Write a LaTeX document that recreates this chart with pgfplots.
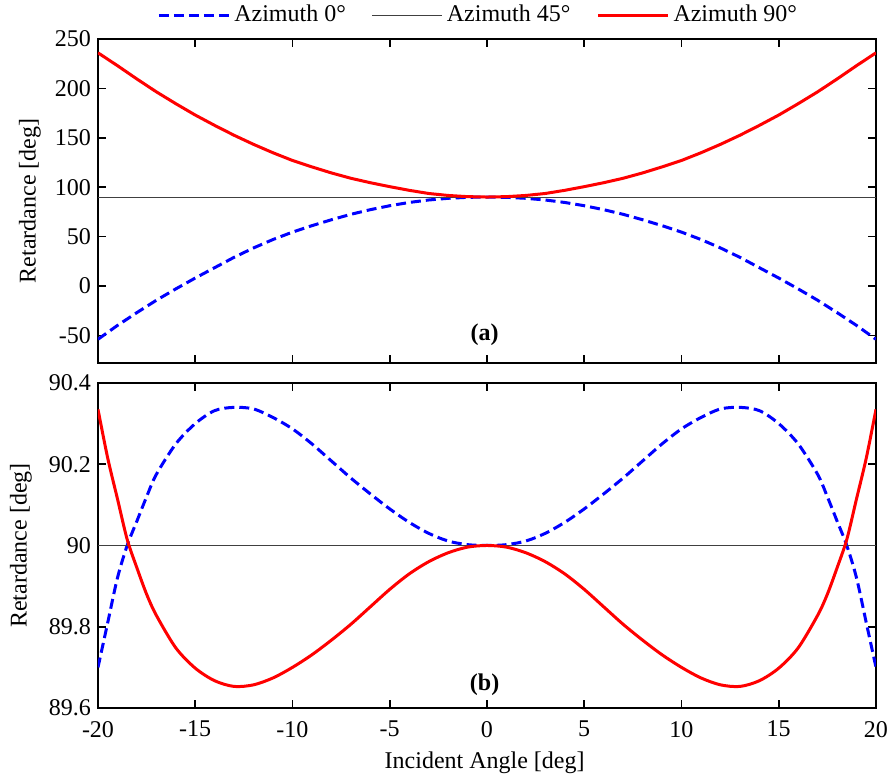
\documentclass[border=0pt]{standalone}
\usepackage{fontspec}
\setmainfont{Liberation Serif}
\usepackage{pgfplots}
\pgfplotsset{compat=1.18}

\pgfplotsset{
  retard/.style={
    scale only axis, width=389pt,
    xmin=-20, xmax=20, xtick={-20,-15,...,20},
    tick pos=both, tick align=inside, major tick length=4pt,
    axis line style={line width=0.8pt},
    every tick/.style={line width=0.8pt, black},
    tick label style={font=\fontsize{12}{14}\selectfont},
    label style={font=\fontsize{12}{14}\selectfont},
    legend image code/.code={\draw[##1] (0pt,0pt) -- (35pt,0pt);},
  },
  az0/.style={blue, line width=1.5pt, dash pattern=on 5pt off 2.5pt},
  az45/.style={black!75, line width=0.5pt},
  az90/.style={red, line width=1.5pt},
}

\begin{document}
\begin{tikzpicture}
\useasboundingbox (-49pt,-35.5pt) rectangle (396.5pt,354pt);

% (a) full range
\begin{axis}[retard,
  at={(0,172.5pt)}, anchor=south west, height=162pt,
  ymin=-78, ymax=250,
  ytick={-50,0,50,100,150,200,250},
  yticklabels={-50,0,50,100,150,200,250},
  xticklabel=\empty,
  ylabel={Retardance [deg]},
  ylabel style={at={(axis description cs:-0.0874,0.5)}, anchor=center},
  legend style={at={(axis description cs:0.49,1.074)}, anchor=center,
    draw=none, fill=none, legend columns=3,
    font=\fontsize{12}{14}\selectfont,
    /tikz/every even column/.append style={column sep=11pt}},
]
\addplot[az0] coordinates {
 (-20,-54) (-19,-40) (-18,-27) (-17,-14.5) (-16,-3) (-15,8) (-14,18.5)
 (-13,29) (-12,38.5) (-11,47) (-10,54.5) (-9,61) (-8,67) (-7,72.5)
 (-6,77.2) (-5,81.2) (-4,84.5) (-3,87) (-2,88.7) (-1,89.7) (0,90)
 (1,89.7) (2,88.7) (3,87) (4,84.5) (5,81.2) (6,77.2) (7,72.5) (8,67)
 (9,61) (10,54.5) (11,47) (12,38.5) (13,29) (14,18.5) (15,8) (16,-3)
 (17,-14.5) (18,-27) (19,-40) (20,-54)};
\addplot[az45] coordinates {(-20,90) (20,90)};
\addplot[az90] coordinates {
 (-20,236) (-19,223) (-18,209.5) (-17,196.5) (-16,184.5) (-15,173)
 (-14,162.5) (-13,152.5) (-12,143.3) (-11,134.8) (-10,127) (-9,120.5)
 (-8,114.4) (-7,109) (-6,104.5) (-5,100.5) (-4,96.8) (-3,93.6) (-2,91.6)
 (-1,90.4) (0,90)
 (1,90.4) (2,91.6) (3,93.6) (4,96.8) (5,100.5) (6,104.5) (7,109)
 (8,114.4) (9,120.5) (10,127) (11,134.8) (12,143.3) (13,152.5)
 (14,162.5) (15,173) (16,184.5) (17,196.5) (18,209.5) (19,223) (20,236)};
\legend{Azimuth 0°, Azimuth 45°, Azimuth 90°}
\node[font=\bfseries\fontsize{12}{14}\selectfont] at (rel axis cs:0.497,0.086) {(a)};
\end{axis}

% (b) zoom around 90 deg
\begin{axis}[retard,
  at={(0,0)}, anchor=south west, height=162.5pt,
  ymin=89.6, ymax=90.4,
  ytick={89.6,89.8,90,90.2,90.4},
  yticklabels={89.6,89.8,90,90.2,90.4},
  xticklabels={-20,-15,-10,-5,0,5,10,15,20},
  xticklabel style={yshift=-3pt},
  xlabel={Incident Angle [deg]},
  xlabel style={at={(axis description cs:0.497,-0.169)}, anchor=center},
  ylabel={Retardance [deg]},
  ylabel style={at={(axis description cs:-0.099,0.5)}, anchor=center},
]
\addplot[az0, smooth] coordinates {
 (-20,89.70) (-19.5,89.81) (-19,89.92) (-18.5,90.00) (-18,90.06)
 (-17.5,90.12) (-17,90.175) (-16,90.25) (-15,90.30) (-14,90.332)
 (-13,90.34) (-12,90.336) (-11,90.315) (-10,90.287) (-9,90.25)
 (-8,90.208) (-7,90.166) (-6,90.127) (-5,90.09) (-4,90.057) (-3,90.03)
 (-2,90.011) (-1,90.002) (0,90.0)
 (1,90.002) (2,90.011) (3,90.03) (4,90.057) (5,90.09) (6,90.127)
 (7,90.166) (8,90.208) (9,90.25) (10,90.287) (11,90.315) (12,90.336)
 (13,90.34) (14,90.332) (15,90.30) (16,90.25) (17,90.175) (17.5,90.12)
 (18,90.06) (18.5,90.00) (19,89.92) (19.5,89.81) (20,89.70)};
\addplot[az45] coordinates {(-20,90) (20,90)};
\addplot[az90, smooth] coordinates {
 (-20,90.335) (-19.5,90.215) (-19,90.115) (-18.5,90.015) (-18,89.945)
 (-17.5,89.88) (-17,89.828) (-16,89.748) (-15,89.698) (-14,89.667)
 (-13,89.653) (-12,89.657) (-11,89.674) (-10,89.70) (-9,89.731)
 (-8,89.767) (-7,89.806) (-6,89.849) (-5,89.892) (-4,89.93) (-3,89.96)
 (-2,89.982) (-1,89.996) (0,90.0)
 (1,89.996) (2,89.982) (3,89.96) (4,89.93) (5,89.892) (6,89.849)
 (7,89.806) (8,89.767) (9,89.731) (10,89.70) (11,89.674) (12,89.657)
 (13,89.653) (14,89.667) (15,89.698) (16,89.748) (17,89.828) (17.5,89.88)
 (18,89.945) (18.5,90.015) (19,90.115) (19.5,90.215) (20,90.335)};
\node[font=\bfseries\fontsize{12}{14}\selectfont] at (rel axis cs:0.497,0.071) {(b)};
\end{axis}
\end{tikzpicture}
\end{document}
